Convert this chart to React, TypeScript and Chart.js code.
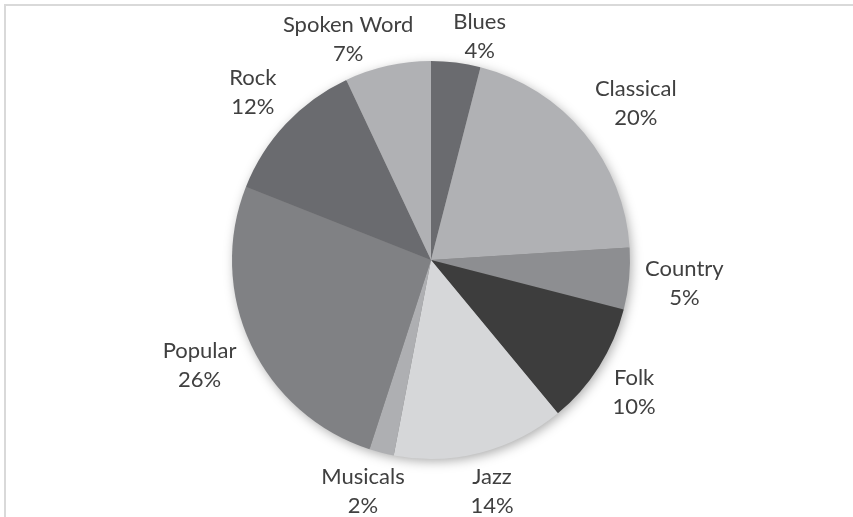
import React, { useEffect, useRef } from "react";
import { Chart, registerables } from "chart.js";

Chart.register(...registerables);

const categories = ["Blues", "Classical", "Country", "Folk", "Jazz", "Musicals", "Popular", "Rock", "Spoken Word"];
const shares = [4, 20, 5, 10, 14, 2, 26, 12, 7];
const sliceColors = ["#6a6b6f", "#b0b1b4", "#8d8e91", "#3d3d3d", "#d6d7d9", "#aeafb2", "#808184", "#6a6b6f", "#b0b1b4"];

const FONT = "22px Lato";
const LINE_GAP = 29;

const framePlugin = {
  id: "frame",
  beforeDraw(chart: any) {
    const ctx = chart.ctx;
    ctx.save();
    ctx.fillStyle = "#ffffff";
    ctx.fillRect(0, 0, chart.width, chart.height);
    ctx.strokeStyle = "#d9d9d9";
    ctx.lineWidth = 2;
    ctx.strokeRect(5, 5, chart.width + 20, chart.height + 20);
    ctx.restore();
  },
};

const shadowPlugin = {
  id: "pieShadow",
  beforeDatasetsDraw(chart: any) {
    const meta = chart.getDatasetMeta(0);
    const arc = meta.data[0];
    if (!arc) return;
    const { x, y, outerRadius } = arc.getProps(["x", "y", "outerRadius"], true);
    const ctx = chart.ctx;
    ctx.save();
    ctx.shadowColor = "rgba(0,0,0,0.35)";
    ctx.shadowBlur = 12;
    ctx.shadowOffsetX = 2;
    ctx.shadowOffsetY = 3;
    ctx.fillStyle = "#888";
    ctx.beginPath();
    ctx.arc(x, y, outerRadius - 1, 0, Math.PI * 2);
    ctx.fill();
    ctx.restore();
  },
};

const labelPlugin = {
  id: "outsideLabels",
  afterDatasetsDraw(chart: any) {
    const ctx = chart.ctx;
    const meta = chart.getDatasetMeta(0);
    const values = chart.data.datasets[0].data as number[];
    const total = values.reduce((a, b) => a + b, 0);
    ctx.save();
    ctx.font = FONT;
    const boxes: any[] = [];
    const k = 1.4;
    const clamp = (v: number) => Math.max(-1, Math.min(1, v));
    meta.data.forEach((el: any, i: number) => {
      const p = el.getProps(["x", "y", "startAngle", "endAngle", "outerRadius"], true);
      const mid = (p.startAngle + p.endAngle) / 2;
      const l1 = String(chart.data.labels[i]);
      const l2 = Math.round((values[i] / total) * 100) + "%";
      const w = Math.max(ctx.measureText(l1).width, ctx.measureText(l2).width);
      const h = 47;
      const cx = Math.cos(mid);
      const cy = Math.sin(mid);
      let S = p.outerRadius + 16;
      if (cy < 0) S -= 14 * Math.pow(cy, 4);
      const x = p.x + S * cx + (w / 2) * clamp(k * cx);
      const y = p.y + S * cy + (h / 2) * clamp(k * cy);
      boxes.push({ x, y, w, h, l1, l2, side: cx });
    });
    // simple horizontal separation for labels that share a row
    const minGap = 40;
    for (let iter = 0; iter < 5; iter++) {
      for (let a = 0; a < boxes.length; a++) {
        for (let b = a + 1; b < boxes.length; b++) {
          const A = boxes[a];
          const B = boxes[b];
          if (Math.abs(A.y - B.y) > A.h) continue;
          const left = A.x < B.x ? A : B;
          const right = A.x < B.x ? B : A;
          const gap = right.x - right.w / 2 - (left.x + left.w / 2);
          if (gap < minGap) {
            const push = (minGap - gap) / 2;
            left.x -= push;
            right.x += push;
          }
        }
      }
    }
    ctx.fillStyle = "#404040";
    ctx.textAlign = "center";
    ctx.textBaseline = "middle";
    boxes.forEach((b) => {
      ctx.fillText(b.l1, b.x, b.y - LINE_GAP / 2);
      ctx.fillText(b.l2, b.x, b.y + LINE_GAP / 2);
    });
    ctx.restore();
  },
};

export default function App() {
  const ref = useRef<HTMLCanvasElement | null>(null);
  useEffect(() => {
    if (!ref.current) return;
    const chart = new Chart(ref.current, {
      type: "pie",
      data: {
        labels: categories,
        datasets: [
          {
            data: shares,
            backgroundColor: sliceColors,
            borderWidth: 0,
          },
        ],
      },
      options: {
        responsive: false,
        animation: false,
        layout: { padding: { left: 232, right: 223, top: 61, bottom: 58 } },
        plugins: {
          legend: { display: false },
          tooltip: { enabled: false },
        },
      },
      plugins: [framePlugin, shadowPlugin, labelPlugin],
    });
    return () => chart.destroy();
  }, []);
  return (
    <div style={{ position: "fixed", left: 0, top: 0, width: 853, height: 517, background: "#fff" }}>
      <canvas ref={ref} width={853} height={517} style={{ width: 853, height: 517, display: "block" }} />
    </div>
  );
}
